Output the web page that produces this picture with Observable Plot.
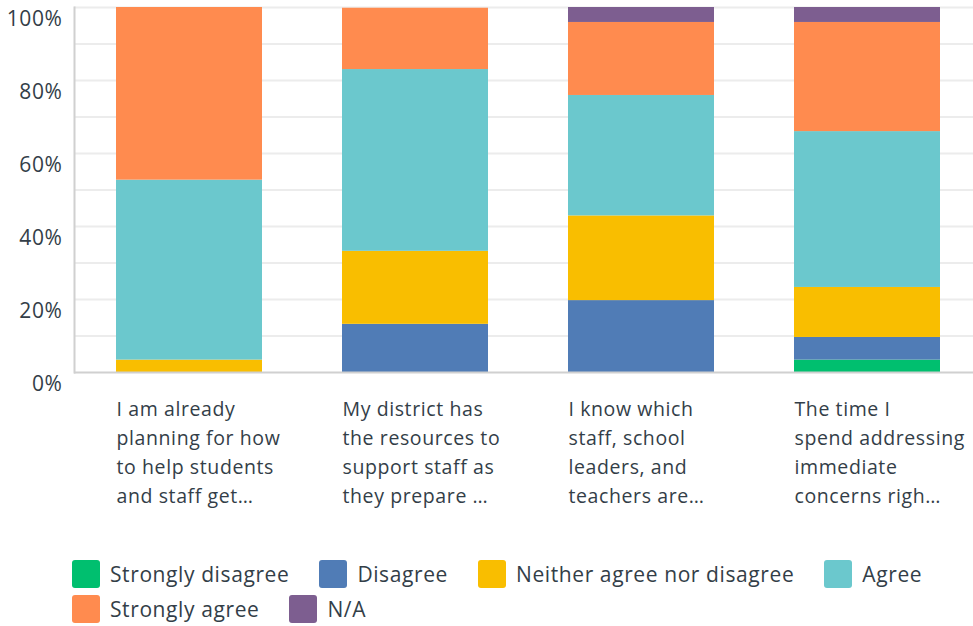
<!DOCTYPE html>
<html>
<head>
<meta charset="utf-8">
<script src="https://cdn.jsdelivr.net/npm/d3@7"></script>
<script src="https://cdn.jsdelivr.net/npm/@observablehq/plot@0.6"></script>
<style>
  body { margin: 0; background: #fff; font-family: "Open Sans", Roboto, sans-serif; color: #333e48; }
  #legend { display: flex; flex-wrap: wrap; width: 900px; margin-left: 72px; margin-top: 20px; row-gap: 7px; letter-spacing: 0.6px; }
  .item { display: flex; align-items: center; margin-right: 30px; height: 28px; font-size: 21px; }
  .sw { width: 28px; height: 28px; border-radius: 3px; margin-right: 10px; }
</style>
</head>
<body>
<div id="chart"></div>
<div id="legend"></div>
<script>
const categories = [
  "I am already\nplanning for how\nto help students\nand staff get…",
  "My district has\nthe resources to\nsupport staff as\nthey prepare …",
  "I know which\nstaff, school\nleaders, and\nteachers are…",
  "The time I\nspend addressing\nimmediate\nconcerns righ…"
];
const responses = ["Strongly disagree", "Disagree", "Neither agree nor disagree", "Agree", "Strongly agree", "N/A"];
const colors = ["#00bf6f", "#507cb6", "#f9be00", "#6bc8cd", "#ff8b4f", "#7d5e90"];
const stronglyDisagree = [0, 0, 0, 3.4];
const disagree = [0, 13.2, 19.7, 6.2];
const neither = [3.4, 20.0, 23.2, 13.7];
const agree = [49.3, 49.8, 33.0, 42.7];
const stronglyAgree = [47.3, 16.8, 20.0, 29.9];
const na = [0, 0, 4.1, 4.1];
const yTicks = [0, 20, 40, 60, 80, 100];
const gridTicks = [10, 20, 30, 40, 50, 60, 70, 80, 90, 100];

const series = [stronglyDisagree, disagree, neither, agree, stronglyAgree, na];
const rows = [];
series.forEach((vals, si) => vals.forEach((v, ci) => rows.push({cat: categories[ci], resp: responses[si], value: v})));

const chart = Plot.plot({
  width: 973,
  height: 540,
  marginTop: 7,
  marginBottom: 168,
  marginLeft: 74,
  marginRight: 0,
  style: {fontFamily: "'Open Sans', Roboto, sans-serif", color: "#333e48", background: "#fff", letterSpacing: "0.6px"},
  x: {domain: categories, paddingInner: 0.356, paddingOuter: 0.161, align: 0.56, label: null},
  y: {domain: [0, 100], label: null},
  color: {domain: responses, range: colors},
  marks: [
    Plot.ruleY(gridTicks, {stroke: "#ececec", strokeWidth: 2}),
    Plot.barY(rows, Plot.stackY({x: "cat", y: "value", fill: "resp", order: responses})),
    Plot.ruleY([0], {stroke: "#d0d0d0", strokeWidth: 2}),
    Plot.frame({anchor: "left", stroke: "#d0d0d0", strokeWidth: 2}),
    Plot.axisY({ticks: yTicks, tickFormat: d => d + "%", tickSize: 0, tickPadding: 12, dy: 12, fontSize: 21, label: null}),
    Plot.axisX({tickSize: 0, tickPadding: 23, textAnchor: "start", dx: -73, fontSize: 19.5, lineHeight: 1.49, label: null})
  ]
});
document.getElementById("chart").appendChild(chart);

const legend = document.getElementById("legend");
responses.forEach((r, i) => {
  const it = document.createElement("div");
  it.className = "item";
  const sw = document.createElement("div");
  sw.className = "sw";
  sw.style.background = colors[i];
  const t = document.createElement("span");
  t.textContent = r;
  it.appendChild(sw);
  it.appendChild(t);
  legend.appendChild(it);
});
</script>
</body>
</html>
